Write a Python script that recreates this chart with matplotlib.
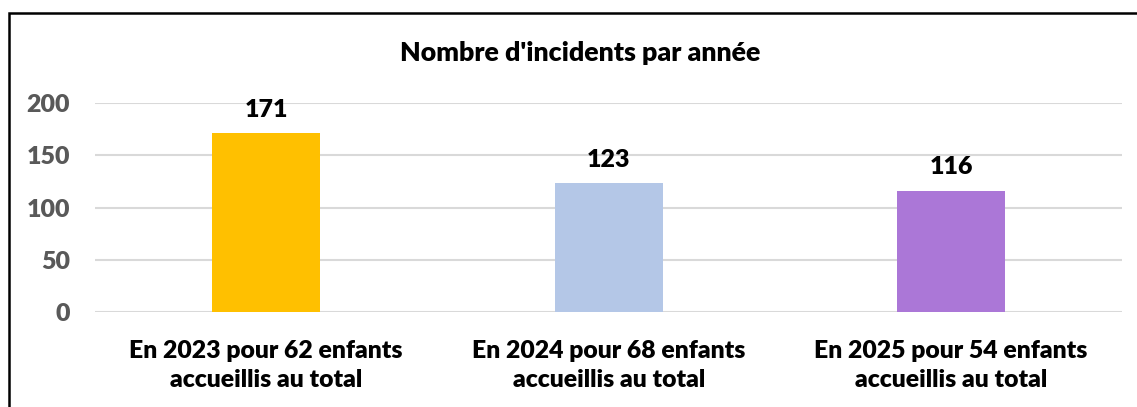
import matplotlib.pyplot as plt
from matplotlib.patches import Rectangle

categories = ["En 2023 pour 62 enfants\naccueillis au total",
              "En 2024 pour 68 enfants\naccueillis au total",
              "En 2025 pour 54 enfants\naccueillis au total"]
incidents = [171, 123, 116]
colors = ["#FFC000", "#B4C7E7", "#AB77D7"]
yticks = [0, 50, 100, 150, 200]

plt.rcParams["font.family"] = ["Lato", "DejaVu Sans"]
W = "heavy"

fig = plt.figure(figsize=(11.37, 4.07), dpi=100)
ax = fig.add_axes([0.0836, 0.2334, 0.9034, 0.5135])

x = range(len(categories))
bars = ax.bar(x, incidents, width=0.316, color=colors, zorder=3)
for b, v in zip(bars, incidents):
    ax.text(b.get_x() + b.get_width() / 2, v + 12, str(v), ha="center", va="bottom",
            fontsize=18, fontweight=W, color="black")

ax.set_xlim(-0.5, 2.5)
ax.set_ylim(0, 200)
ax.set_yticks(yticks)
ax.yaxis.grid(True, color="#D9D9D9", linewidth=1.5, zorder=0)
ax.set_axisbelow(True)
for s in ax.spines.values():
    s.set_visible(False)
ax.tick_params(axis="both", length=0)
ax.tick_params(axis="y", labelsize=18, labelcolor="#595959", pad=18)
for lbl in ax.get_yticklabels():
    lbl.set_fontweight(W)
ax.set_xticks(list(x))
ax.set_xticklabels(categories, fontsize=17.8, fontweight=W, linespacing=1.4)
ax.tick_params(axis="x", pad=20)

fig.text(0.51, 0.87, "Nombre d'incidents par année", ha="center", va="center",
         fontsize=19.3, fontweight=W)

# cadre du graphique (coupé à droite et en bas)
fig.patches.append(Rectangle((9 / 1137, -0.1), 1.2, 1 - 13 / 407 + 0.1,
                             transform=fig.transFigure, fill=False,
                             edgecolor="black", linewidth=1.8))

fig.savefig("out.png", dpi=100)
